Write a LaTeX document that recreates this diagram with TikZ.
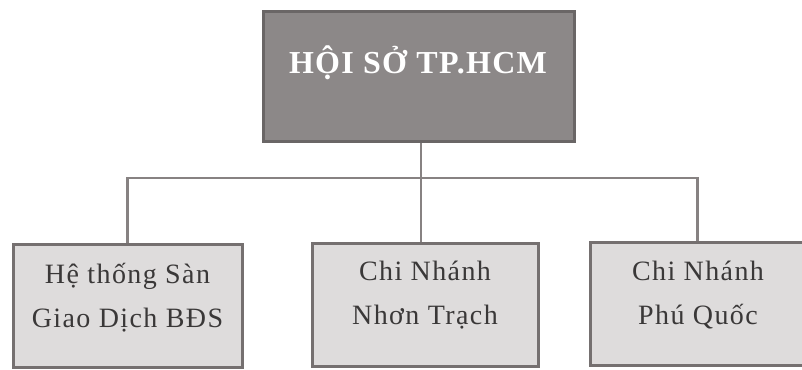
\documentclass[tikz,border=0pt]{standalone}
\usepackage{fontspec}
\setmainfont{Liberation Serif}
\newfontfamily\spacedserif[LetterSpace=5]{Liberation Serif}
\newfontfamily\spacedbold[LetterSpace=4]{Liberation Serif Bold}
\definecolor{topfill}{HTML}{8C8888}
\definecolor{topline}{HTML}{6A6666}
\definecolor{boxfill}{HTML}{DEDCDC}
\definecolor{boxline}{HTML}{757070}
\definecolor{conncol}{HTML}{878282}
\definecolor{txtcol}{HTML}{3A3838}
\begin{document}
\begin{tikzpicture}[x=1pt,y=-1pt,
  topbox/.style={draw=topline,fill=topfill,line width=3pt,minimum width=311pt,minimum height=130pt,inner sep=0pt},
  unitbox/.style={draw=boxline,fill=boxfill,line width=3pt,minimum height=123pt,inner sep=0pt},
  toptext/.style={text=white,font=\fontsize{32}{38}\spacedbold,inner sep=0pt,anchor=base},
  unittext/.style={text=txtcol,font=\fontsize{28}{44}\spacedserif,align=center,inner sep=0pt,anchor=base},
  conn/.style={draw=conncol,line width=2.5pt}]
\useasboundingbox (0,0) rectangle (802,369);
\fill[white] (0,0) rectangle (802,369);
% boxes
\node[topbox] (top) at (419,76.5) {};
\node[unitbox,minimum width=229pt] (b1) at (127.5,305.5) {};
\node[unitbox,minimum width=226pt] (b2) at (425,305) {};
\node[unitbox,minimum width=215pt] (b3) at (697.5,303.5) {};
% connectors
\coordinate (hub) at (421,178);
\draw[conn] (top.south -| hub) -- (hub);
\draw[conn] (hub) -- (b2.north -| hub);
\draw[conn] (hub) -| (b1.north);
\draw[conn] (hub) -| (b3.north);
% texts
\node[toptext] (ttop) at (418,73) {HỘI SỞ TP.HCM};
\node[unittext] (t1) at (127.5,327) {Hệ thống Sàn\\Giao Dịch BĐS};
\node[unittext] (t2) at (425,324) {Chi Nhánh\\Nhơn Trạch};
\node[unittext] (t3) at (698,324) {Chi Nhánh\\Phú Quốc};
\end{tikzpicture}
\end{document}
